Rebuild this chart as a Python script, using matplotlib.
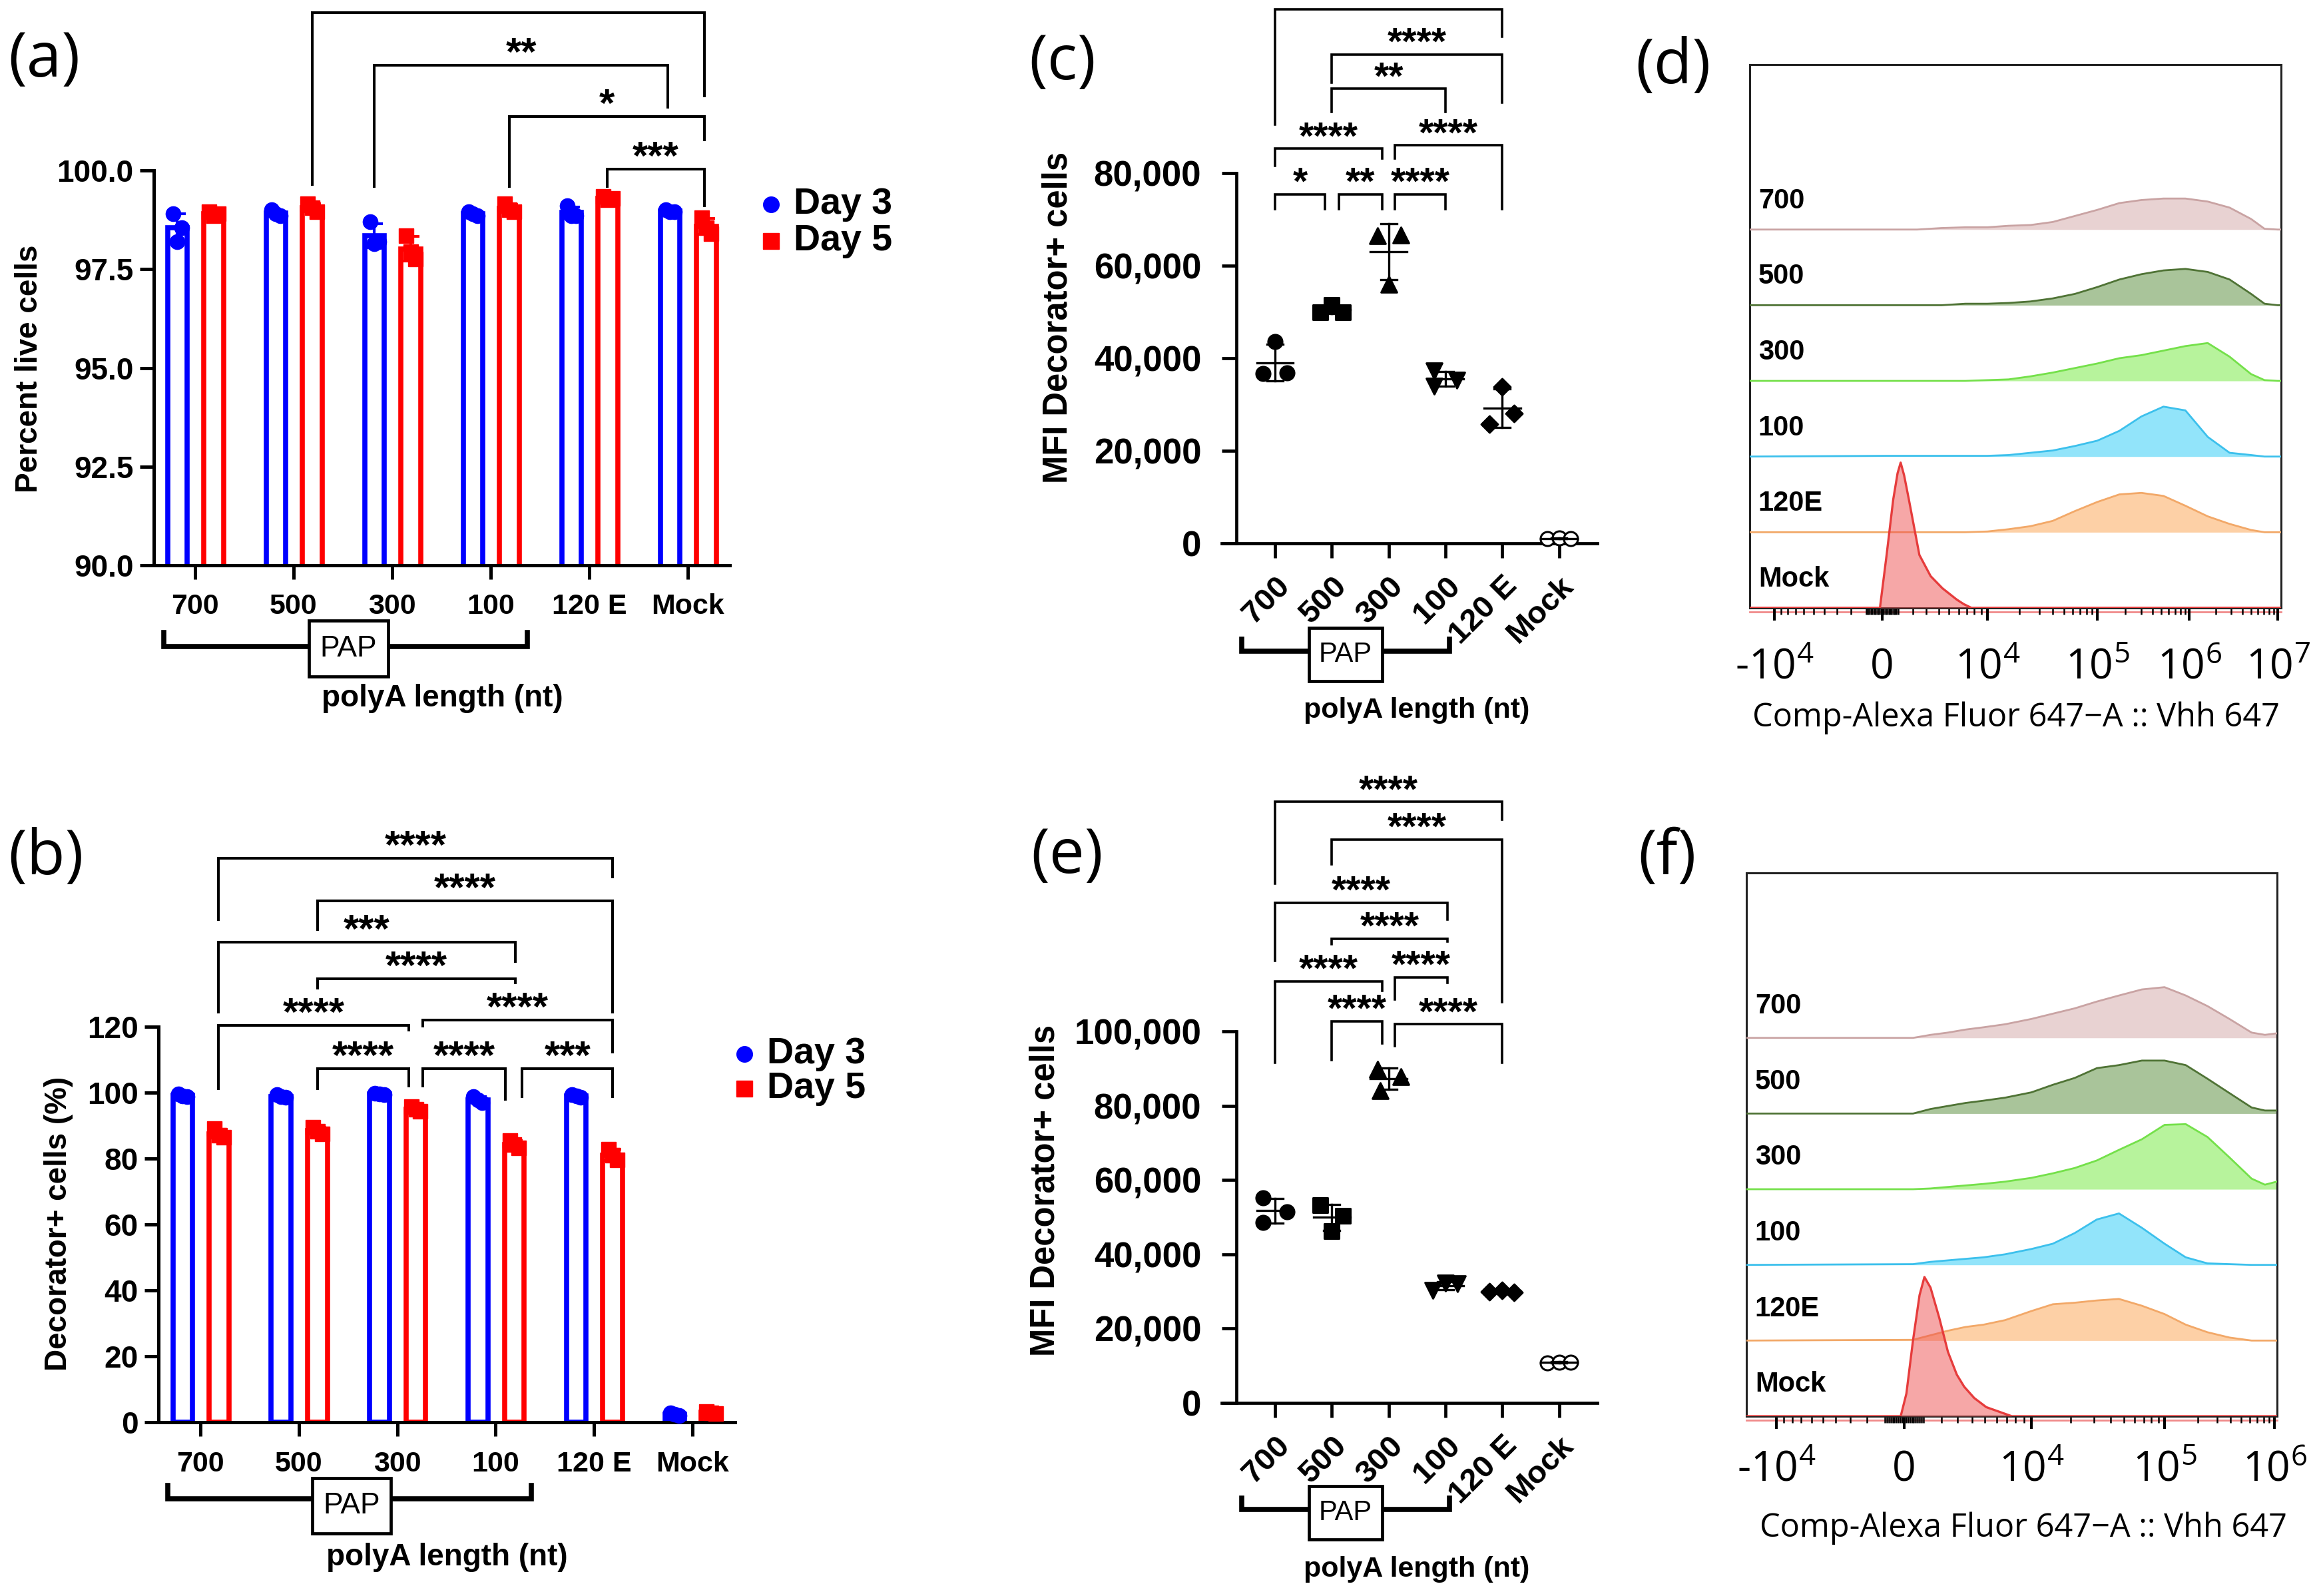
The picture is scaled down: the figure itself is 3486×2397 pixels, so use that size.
import numpy as np
import matplotlib
matplotlib.use("Agg")
import matplotlib.pyplot as plt
from matplotlib.lines import Line2D
from matplotlib.patches import Rectangle

W, H = 3486, 2397
SANS = "Liberation Sans"
SOFT = "Open Sans"
plt.rcParams["font.family"] = [SANS, "DejaVu Sans"]
plt.rcParams["mathtext.fontset"] = "custom"
plt.rcParams["mathtext.rm"] = SOFT

GROUPS = ["700", "500", "300", "100", "120 E", "Mock"]
DAYS = ["Day 3", "Day 5"]

# percent live cells, three replicates per group
LIVE_DAY3 = [[98.9, 98.2, 98.55], [99.0, 98.9, 98.85], [98.7, 98.15, 98.2],
             [98.95, 98.9, 98.85], [99.1, 98.85, 98.85], [99.0, 98.95, 98.95]]
LIVE_DAY5 = [[98.95, 98.85, 98.9], [99.15, 99.05, 98.95], [98.35, 97.95, 97.75],
             [99.15, 99.0, 98.95], [99.35, 99.25, 99.3], [98.8, 98.55, 98.4]]

# decorator+ cells (%)
DECO_DAY3 = [[99.5, 99.0, 98.8], [99.3, 98.8, 98.5], [99.8, 99.6, 99.4],
             [98.8, 97.8, 96.9], [99.3, 98.9, 98.6], [2.8, 2.4, 2.1]]
DECO_DAY5 = [[89.0, 87.0, 86.5], [89.5, 88.3, 87.5], [95.8, 95.0, 94.3],
             [85.5, 84.3, 83.2], [82.8, 81.0, 79.5], [3.2, 2.9, 2.7]]

# MFI of decorator+ cells
MFI_C = [[43600, 36700, 36800], [49900, 51500, 50000], [66500, 66600, 56000],
         [37200, 34000, 35300], [33800, 28000, 25700], [1000, 1100, 1000]]
MFI_E = [[55200, 48500, 51500], [53300, 50300, 46300], [89800, 87900, 84100],
         [30300, 32300, 32000], [30000, 30300, 29800], [10800, 11000, 11000]]

# flow histograms: intensity grid and lane heights (% of lane height)
LANES = ["700", "500", "300", "100", "120E", "Mock"]
GRID_D = [275, 2300, 4270, 6800, 1e4, 1.58e4, 2.51e4, 3.98e4, 6.31e4, 1e5, 1.74e5,
          3.02e5, 5.25e5, 9.1e5, 1.62e6, 2.86e6, 5.0e6, 7.1e6, 1e7]
HIST_D = [
    [0, 0, 2, 3, 3, 5, 6, 10, 18, 26, 35, 39, 41, 41, 37, 29, 14, 1, 0],
    [0, 0, 0, 2, 2, 3, 5, 9, 15, 24, 34, 41, 46, 48, 44, 34, 15, 2, 0],
    [0, 0, 0, 0, 1, 2, 6, 11, 17, 23, 30, 34, 40, 46, 50, 32, 9, 1, 0],
    [1, 1, 1, 1, 1, 2, 5, 8, 14, 21, 34, 53, 66, 61, 26, 5, 2, 0, 0],
    [0, 0, 0, 0, 1, 4, 8, 15, 28, 40, 50, 52, 48, 35, 21, 11, 3, 0, 0],
]
MOCK_D_X = [-140, 275, 690, 970, 1170, 1400, 1720, 2460, 3330, 4350, 5800, 6610, 7600]
MOCK_D_H = [0, 70, 143, 178, 192, 175, 143, 70, 42, 26, 11, 5, 0]

GRID_F = [460, 1390, 2390, 3530, 4870, 6850, 1e4, 1.47e4, 2.15e4, 3.15e4, 4.6e4,
          6.8e4, 1e5, 1.56e5, 2.46e5, 3.9e5, 6.2e5, 8.2e5, 1.05e6]
HIST_F = [
    [0, 4, 7, 11, 14, 18, 25, 32, 39, 48, 56, 64, 67, 56, 42, 25, 7, 4, 6],
    [0, 6, 10, 14, 17, 21, 28, 38, 47, 60, 64, 70, 70, 64, 46, 27, 8, 4, 4],
    [0, 1, 3, 5, 7, 10, 15, 21, 28, 38, 52, 66, 85, 86, 69, 42, 14, 6, 10],
    [1, 4, 6, 8, 10, 14, 21, 28, 42, 60, 68, 49, 28, 10, 2, 1, 0, 0, 0],
    [1, 7, 13, 18, 21, 27, 39, 48, 50, 53, 55, 46, 35, 21, 11, 4, 0, 0, 0],
]
MOCK_F_X = [-180, 114, 456, 800, 1060, 1390, 1880, 2390, 2940, 3430, 4150, 5100, 7570]
MOCK_F_H = [0, 30, 100, 160, 184, 170, 130, 85, 55, 39, 24, 12, 0]

FLOW_TICKS_D = [-1e4, 0, 1e4, 1e5, 1e6, 1e7]
FLOW_TICKS_F = [-1e4, 0, 1e4, 1e5, 1e6]
FLOW_LABELS = ["-10$^{4}$", "0", "10$^{4}$", "10$^{5}$", "10$^{6}$", "10$^{7}$"]
FLOW_XLABEL = "Comp-Alexa Fluor 647\u2212A :: Vhh 647"

# significance brackets: x1, x2, level, left leg end, right leg end, label
BRACKETS_A = [(1.19, 5.17, 103.99, 99.64, 101.89, ""),
              (1.82, 4.80, 102.66, 99.59, 101.60, "**"),
              (3.19, 5.17, 101.36, 99.59, 100.77, "*"),
              (4.18, 5.17, 100.04, 99.60, 99.11, "***")]
BRACKETS_B = [(0.18, 4.19, 171.1, 152.6, 165.5, "****"),
              (1.19, 4.19, 158.2, 149.4, 124.5, "****"),
              (0.18, 3.20, 145.7, 124.5, 139.8, "***"),
              (1.19, 3.20, 134.5, 131.7, 133.3, "****"),
              (0.18, 2.12, 120.5, 101.2, 119.0, "****"),
              (2.26, 4.19, 122.1, 120.2, 112.4, "****"),
              (1.19, 2.12, 107.3, 101.2, 102.0, "****"),
              (2.26, 3.10, 107.3, 102.0, 98.0, "****"),
              (3.27, 4.19, 107.3, 98.8, 98.8, "***")]
BRACKETS_C = [(0.00, 4.00, 115350, 90550, 109550, ""),
              (1.00, 4.00, 105650, 99500, 95300, "****"),
              (1.00, 3.00, 98260, 93190, 93190, "**"),
              (0.00, 1.89, 85280, 81580, 83160, "****"),
              (2.11, 4.00, 86020, 83160, 72300, "****"),
              (0.00, 0.88, 75460, 72300, 72300, "*"),
              (1.12, 1.89, 75460, 72300, 72300, "**"),
              (2.11, 3.00, 75460, 72300, 72300, "****")]
BRACKETS_E = [(0.00, 4.00, 161750, 139800, 156900, "****"),
              (1.00, 4.00, 151660, 145000, 107900, "****"),
              (0.00, 3.04, 134600, 119000, 130150, "****"),
              (1.00, 3.04, 124950, 123500, 124200, "****"),
              (0.00, 1.89, 113500, 91560, 110850, "****"),
              (2.11, 3.04, 114560, 108600, 113000, "****"),
              (1.00, 1.89, 102700, 92300, 96750, "****"),
              (2.11, 4.00, 101950, 96000, 91560, "****")]

SERIES_COLORS = ["#0000ff", "#ff0000"]
SERIES_MARKERS = ["o", "s"]
BAR_OFFSETS = [-0.18, 0.19]
BAR_JITTER = [-0.045, 0.0, 0.045]
SCATTER_MARKERS = ["o", "s", "^", "v", "D", "o"]
SCATTER_SIZES = [230, 230, 290, 290, 160, 230]
JITTER_C = [[0, -0.21, 0.21], [-0.2, 0, 0.2], [-0.2, 0.22, 0],
            [-0.2, -0.2, 0.2], [0, 0.21, -0.22], [-0.2, 0, 0.2]]
JITTER_E = [[-0.21, -0.21, 0.21], [-0.2, 0.2, 0], [-0.2, 0.21, -0.15],
            [-0.22, 0, 0.21], [-0.22, 0, 0.21], [-0.2, 0, 0.2]]
LANE_LINE = ["#c9a3a3", "#4f7335", "#74e04a", "#3cc0ec", "#f2a868", "#e63c3c"]
LANE_FILL = ["#e8d2d2", "#a9c49a", "#b7f39c", "#92e4fa", "#fdd0a6", "#ee5050"]
FLOW_C = 4000.0


def px(x, y):
    return x / W, 1 - y / H


def axes_at(fig, left, top, right, bottom):
    l, b = px(left, bottom)
    return fig.add_axes([l, b, (right - left) / W, (bottom - top) / H])


def bracket(ax, x1, x2, y, y1, y2, label, fs, lw):
    ax.plot([x1, x1, x2, x2], [y1, y, y, y2], color="black", lw=lw,
            clip_on=False, solid_joinstyle="miter", zorder=6)
    if label:
        ax.text((x1 + x2) / 2, y, label, ha="center", va="baseline",
                fontsize=fs, fontweight="bold", clip_on=False)


def pap(ax, x1, x2, yline, ytick, bx, by, fs):
    tr = ax.get_xaxis_transform()
    ax.plot([x1, x1, x2, x2], [ytick, yline, yline, ytick], transform=tr,
            color="black", lw=5.5, clip_on=False, solid_joinstyle="miter")
    ax.add_patch(Rectangle((bx[0], by[1]), bx[1] - bx[0], by[0] - by[1],
                           transform=tr, facecolor="white", edgecolor="black",
                           lw=3.4, clip_on=False, zorder=5))
    ax.text(sum(bx) / 2, sum(by) / 2, "PAP", transform=tr, ha="center",
            va="center", fontsize=fs, zorder=6)


def graphpad_axes(ax, lw, tick_len):
    for side in ("top", "right"):
        ax.spines[side].set_visible(False)
    for side in ("left", "bottom"):
        ax.spines[side].set_linewidth(lw)
    ax.tick_params(length=tick_len, width=lw, direction="out")


def bar_panel(ax, day3, day5, ylim, yticks, ylabels, xlim, brackets, xpad):
    for series, off, col, mk in zip((day3, day5), BAR_OFFSETS,
                                    SERIES_COLORS, SERIES_MARKERS):
        vals = np.array(series)
        means = vals.mean(axis=1)
        sds = vals.std(axis=1, ddof=1)
        xs = np.arange(len(GROUPS)) + off
        ax.bar(xs, means, width=0.2, facecolor="white", edgecolor=col,
               linewidth=5.5, zorder=2)
        ax.errorbar(xs, means, yerr=sds, fmt="none", ecolor=col,
                    elinewidth=3, capsize=9, capthick=3, zorder=3)
        for j in range(vals.shape[1]):
            ax.plot(xs + BAR_JITTER[j], vals[:, j], ls="none", marker=mk,
                    ms=16, color=col, zorder=4, clip_on=False)
    ax.set_xlim(*xlim)
    ax.set_ylim(*ylim)
    ax.set_yticks(yticks)
    ax.set_yticklabels(ylabels, fontsize=33, fontweight="bold")
    ax.set_xticks(range(len(GROUPS)))
    ax.set_xticklabels(GROUPS, fontsize=31, fontweight="bold")
    graphpad_axes(ax, 3.6, 15)
    ax.tick_params(axis="x", pad=xpad)
    ax.tick_params(axis="y", pad=7)
    for b in brackets:
        bracket(ax, *b, fs=43, lw=2.9)


def scatter_panel(ax, values, jitter, ylim, yticks, brackets):
    for i, pts in enumerate(values):
        pts = np.array(pts, float)
        m, s = pts.mean(), pts.std(ddof=1)
        face = "white" if GROUPS[i] == "Mock" else "black"
        ax.scatter(i + np.array(jitter[i]), pts, marker=SCATTER_MARKERS[i],
                   s=SCATTER_SIZES[i], facecolor=face, edgecolor="black",
                   linewidth=2.2, zorder=3, clip_on=False)
        ax.plot([i - 0.32, i + 0.32], [m, m], color="black", lw=2.4, zorder=4)
        ax.plot([i, i], [m - s, m + s], color="black", lw=2.4, zorder=4)
        for e in (m - s, m + s):
            ax.plot([i - 0.14, i + 0.14], [e, e], color="black", lw=2.4, zorder=4)
    ax.set_xlim(-0.938, 5.674)
    ax.set_ylim(*ylim)
    ax.spines["left"].set_position(("data", -0.68))
    ax.set_yticks(yticks)
    ax.set_yticklabels([f"{v:,}" for v in yticks], fontsize=38, fontweight="bold")
    ax.set_xticks(range(len(GROUPS)))
    ax.set_xticklabels(GROUPS, fontsize=34, fontweight="bold", rotation=45,
                       ha="right", rotation_mode="anchor")
    graphpad_axes(ax, 3.4, 16)
    ax.tick_params(axis="y", pad=22)
    ax.tick_params(axis="x", pad=14)
    for b in brackets:
        bracket(ax, *b, fs=41, lw=2.6)


def flow_scale(ticks, tick_px):
    u = np.arcsinh(np.asarray(ticks, float) / FLOW_C)
    p = np.asarray(tick_px, float)
    lo = (p[1] - p[0]) / (u[1] - u[0])
    hi = (p[-1] - p[-2]) / (u[-1] - u[-2])
    u_ext = np.r_[u[0] - 50, u, u[-1] + 50]
    p_ext = np.r_[p[0] - 50 * lo, p, p[-1] + 50 * hi]

    def fwd(x):
        return np.interp(np.arcsinh(np.asarray(x, float) / FLOW_C), u_ext, p_ext)

    def inv(y):
        return FLOW_C * np.sinh(np.interp(np.asarray(y, float), p_ext, u_ext))
    return fwd, inv


def flow_panel(ax, grid, hists, mock_x, mock_h, ticks, tick_px, edges,
               label_dy, label_base):
    fwd, inv = flow_scale(ticks, tick_px)
    ax.set_xscale("function", functions=(fwd, inv))
    lo, hi = float(inv(edges[0])), float(inv(edges[1]))
    ax.set_xlim(lo, hi)
    ax.set_ylim(0, 7.18)
    x = np.r_[lo, grid, hi]
    for k, h in enumerate(hists):
        base = 5 - k
        h = np.asarray(h, float) / 100
        y = base + np.r_[0, h, h[-1]]
        ax.fill_between(x, base, y, color=LANE_FILL[k], lw=0, zorder=2)
        ax.plot(x, y, color=LANE_LINE[k], lw=2, zorder=3)
    mx = np.r_[lo, mock_x, hi]
    my = np.r_[0, np.asarray(mock_h, float) / 100, 0]
    ax.fill_between(mx, 0, my, color=LANE_FILL[5], alpha=0.5, lw=0, zorder=4)
    ax.plot(mx, my, color=LANE_LINE[5], lw=2.4, zorder=5)
    ax.plot([lo, hi], [-0.05, -0.05], color=LANE_LINE[5], lw=2, alpha=0.6,
            clip_on=False, zorder=1)
    for k, name in enumerate(LANES):
        ax.text(0.016, 5 - k + label_dy, name, transform=ax.get_yaxis_transform(),
                ha="left", va="center", fontsize=30, fontweight="bold", zorder=7)
    minor = [-k * 1e3 for k in range(1, 10)] + [-k * 100 for k in range(1, 10)]
    minor += [k * 100 for k in range(1, 10)] + [k * 1e3 for k in range(1, 10)]
    for d in range(4, int(np.log10(ticks[-1]))):
        minor += [k * 10.0 ** d for k in range(2, 10)]
    ax.set_xticks(ticks)
    ax.set_xticks(minor, minor=True)
    ax.set_xticklabels([])
    ax.set_yticks([])
    ax.tick_params(axis="x", which="major", length=14, width=2.9, direction="out")
    ax.tick_params(axis="x", which="minor", length=7, width=1.8, direction="out")
    for side in ax.spines.values():
        side.set_linewidth(2.2)
        side.set_color("#222222")
    tr = ax.get_xaxis_transform()
    for t, lab in zip(ticks, FLOW_LABELS):
        ax.text(t, label_base, lab, transform=tr, ha="center", va="baseline",
                fontsize=45, family=SOFT)


def legend(fig, x, y, dy):
    for k, (lab, col, mk) in enumerate(zip(DAYS, SERIES_COLORS, SERIES_MARKERS)):
        fx, fy = px(x, y + k * dy)
        fig.add_artist(Line2D([fx], [fy], ls="none", marker=mk, color=col,
                              ms=17, transform=fig.transFigure))
        fig.text(fx + 34 / W, fy, lab, ha="left", va="center", fontsize=40,
                 fontweight="bold")


def main():
    fig = plt.figure(figsize=(W / 100, H / 100), dpi=100, facecolor="white")

    # (a) percent live cells
    ax_a = axes_at(fig, 231, 256, 1096, 849)
    bar_panel(ax_a, LIVE_DAY3, LIVE_DAY5, (90, 100), [90, 92.5, 95, 97.5, 100],
              ["90.0", "92.5", "95.0", "97.5", "100.0"], (-0.419, 5.426),
              BRACKETS_A, 15)
    pap(ax_a, -0.32, 3.37, -0.206, -0.170, (1.155, 1.96), (-0.140, -0.282), 32)
    legend(fig, 1158, 307, 55)

    # (b) decorator+ cells
    ax_b = axes_at(fig, 238, 1542, 1104, 2136)
    bar_panel(ax_b, DECO_DAY3, DECO_DAY5, (0, 120), list(range(0, 121, 20)),
              [str(v) for v in range(0, 121, 20)], (-0.426, 5.433),
              BRACKETS_B, 16)
    pap(ax_b, -0.33, 3.36, -0.194, -0.160, (1.137, 1.935), (-0.141, -0.281), 32)
    legend(fig, 1118, 1583, 52)

    # (c), (e) MFI
    ax_c = axes_at(fig, 1835, 260, 2399, 816)
    scatter_panel(ax_c, MFI_C, JITTER_C, (0, 80000),
                  list(range(0, 80001, 20000)), BRACKETS_C)
    pap(ax_c, -0.586, 3.07, -0.291, -0.259, (0.598, 1.887), (-0.228, -0.372), 30)
    ax_e = axes_at(fig, 1835, 1549, 2399, 2107)
    scatter_panel(ax_e, MFI_E, JITTER_E, (0, 100000),
                  list(range(0, 100001, 20000)), BRACKETS_E)
    pap(ax_e, -0.586, 3.07, -0.287, -0.256, (0.598, 1.887), (-0.224, -0.367), 30)

    # (d), (f) flow histograms
    ax_d = axes_at(fig, 2628, 97, 3426, 913)
    flow_panel(ax_d, GRID_D, HIST_D, MOCK_D_X, MOCK_D_H, FLOW_TICKS_D,
               [2665, 2827, 2985, 3150, 3288, 3421], (2628, 3426), 0.38, -0.13)
    ax_f = axes_at(fig, 2623, 1311, 3420, 2127)
    flow_panel(ax_f, GRID_F, HIST_F, MOCK_F_X, MOCK_F_H, FLOW_TICKS_F,
               [2668, 2860, 3051, 3251, 3416], (2623, 3420), 0.42, -0.12)

    # axis titles
    for (x, y), text, fs in [((44, 554), "Percent live cells", 33),
                             ((88, 1838), "Decorator+ cells (%)", 33),
                             ((1589, 477), "MFI Decorator+ cells", 36.5),
                             ((1570, 1788), "MFI Decorator+ cells", 36.5)]:
        fig.text(*px(x, y), text, rotation=90, ha="center", va="center",
                 fontsize=fs, fontweight="bold")
    for (x, y), fs in [((664, 1049), 33), ((671, 2339), 33),
                       ((2128, 1067), 31), ((2128, 2357), 31)]:
        fig.text(*px(x, y), "polyA length (nt)", ha="center", va="center",
                 fontsize=fs, fontweight="bold")
    for (x, y) in [(3028, 1078), (3039, 2295)]:
        fig.text(*px(x, y), FLOW_XLABEL, ha="center", va="center", fontsize=35,
                 family=[SOFT, "DejaVu Sans"])

    # panel letters
    for (x, y), letter in [((12, 91), "(a)"), ((12, 1289), "(b)"),
                           ((1545, 95), "(c)"), ((1548, 1286), "(e)"),
                           ((2456, 100), "(d)"), ((2460, 1289), "(f)")]:
        fig.text(*px(x, y), letter, ha="left", va="center", fontsize=68,
                 family=SOFT)

    fig.savefig("out.png", dpi=100, facecolor="white")


if __name__ == "__main__":
    main()
